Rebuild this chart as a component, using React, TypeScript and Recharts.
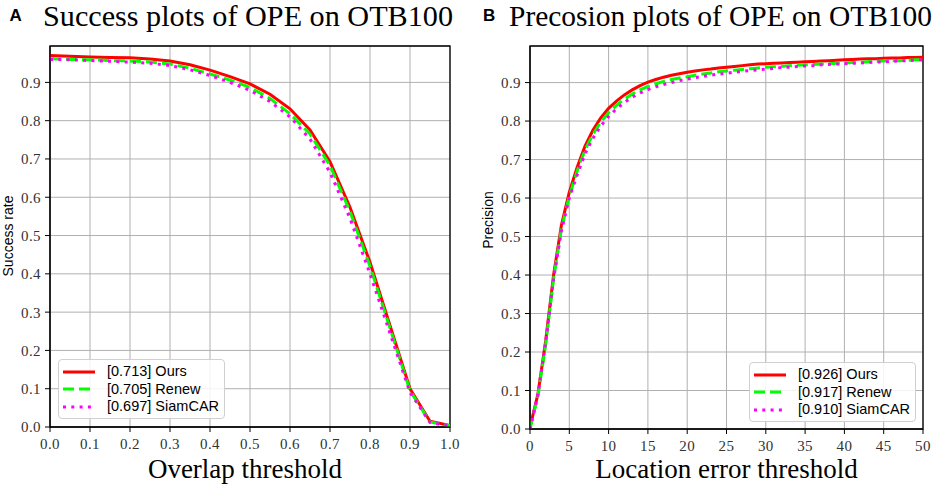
import React from 'react';
import { LineChart, Line, XAxis, YAxis, CartesianGrid, ReferenceArea, Legend } from 'recharts';

// ---------- Success plot (A) ----------
const overlapThresholds = [0, 0.05, 0.1, 0.15, 0.2, 0.25, 0.3, 0.35, 0.4, 0.45, 0.5, 0.55, 0.6, 0.65, 0.7, 0.75, 0.8, 0.85, 0.9, 0.95, 1.0];
const oursSuccess = [0.970, 0.968, 0.966, 0.965, 0.964, 0.961, 0.956, 0.946, 0.932, 0.915, 0.896, 0.869, 0.831, 0.776, 0.693, 0.574, 0.430, 0.265, 0.100, 0.015, 0.004];
const renewSuccess = [0.962, 0.960, 0.959, 0.957, 0.956, 0.953, 0.948, 0.937, 0.922, 0.906, 0.887, 0.858, 0.818, 0.765, 0.683, 0.563, 0.420, 0.258, 0.095, 0.013, 0.003];
const siamcarSuccess = [0.960, 0.959, 0.957, 0.955, 0.953, 0.950, 0.944, 0.933, 0.918, 0.900, 0.879, 0.850, 0.810, 0.752, 0.665, 0.545, 0.400, 0.245, 0.090, 0.012, 0.003];
const successXTicks = [0, 0.1, 0.2, 0.3, 0.4, 0.5, 0.6, 0.7, 0.8, 0.9, 1.0];
const successLegend = ['[0.713] Ours', '[0.705] Renew', '[0.697] SiamCAR'];

// ---------- Precision plot (B) ----------
const locationThresholds = [0, 1, 2, 3, 4, 5, 6, 7, 8, 9, 10, 11, 12, 13, 14, 15, 16, 17, 18, 19, 20, 21, 22, 23, 24, 25, 26, 27, 28, 29, 30, 31, 32, 33, 34, 35, 36, 37, 38, 39, 40, 41, 42, 43, 44, 45, 46, 47, 48, 49, 50];
const oursPrecision = [0.005, 0.090, 0.230, 0.400, 0.530, 0.615, 0.680, 0.735, 0.776, 0.808, 0.833, 0.852, 0.868, 0.881, 0.892, 0.901, 0.908, 0.914, 0.919, 0.923, 0.927, 0.930, 0.933, 0.935, 0.938, 0.940, 0.942, 0.944, 0.946, 0.948, 0.949, 0.950, 0.951, 0.952, 0.953, 0.954, 0.955, 0.956, 0.957, 0.958, 0.959, 0.960, 0.961, 0.962, 0.962, 0.963, 0.964, 0.964, 0.965, 0.965, 0.966];
const renewPrecision = [0.000, 0.085, 0.220, 0.390, 0.520, 0.605, 0.670, 0.725, 0.765, 0.797, 0.822, 0.841, 0.857, 0.870, 0.881, 0.890, 0.897, 0.903, 0.908, 0.912, 0.915, 0.919, 0.922, 0.925, 0.928, 0.930, 0.932, 0.934, 0.936, 0.938, 0.940, 0.941, 0.942, 0.944, 0.945, 0.946, 0.947, 0.948, 0.949, 0.950, 0.951, 0.952, 0.953, 0.954, 0.955, 0.956, 0.957, 0.957, 0.958, 0.959, 0.960];
const siamcarPrecision = [0.000, 0.090, 0.225, 0.390, 0.515, 0.600, 0.660, 0.715, 0.755, 0.787, 0.812, 0.832, 0.848, 0.862, 0.873, 0.882, 0.889, 0.895, 0.900, 0.905, 0.909, 0.913, 0.916, 0.919, 0.922, 0.924, 0.927, 0.929, 0.931, 0.933, 0.935, 0.937, 0.939, 0.940, 0.942, 0.943, 0.944, 0.946, 0.947, 0.948, 0.949, 0.950, 0.951, 0.952, 0.953, 0.954, 0.955, 0.956, 0.957, 0.958, 0.959];
const precisionXTicks = [0, 5, 10, 15, 20, 25, 30, 35, 40, 45, 50];
const precisionLegend = ['[0.926] Ours', '[0.917] Renew', '[0.910] SiamCAR'];

const yTicks = [0, 0.1, 0.2, 0.3, 0.4, 0.5, 0.6, 0.7, 0.8, 0.9];
const seriesKeys = ['ours', 'renew', 'siamcar'];

const successData = overlapThresholds.map((t, i) => ({ t, ours: oursSuccess[i], renew: renewSuccess[i], siamcar: siamcarSuccess[i] }));
const precisionData = locationThresholds.map((t, i) => ({ t, ours: oursPrecision[i], renew: renewPrecision[i], siamcar: siamcarPrecision[i] }));

const seriesStyles: Record<string, { stroke: string; dash?: string }> = {
  ours: { stroke: '#ff0000' },
  renew: { stroke: '#00ff00', dash: '11 5' },
  siamcar: { stroke: '#ff00ff', dash: '3 5.3' },
};

const fmt1 = (v: number) => v.toFixed(1);
const fmt0 = (v: number) => String(v);

function makeTick(axis: 'x' | 'y', format: (v: number) => string) {
  return (props: any) => {
    const { x, y, payload } = props;
    const isX = axis === 'x';
    return (
      <text
        x={x}
        y={y}
        dy={isX ? '0.72em' : '0.36em'}
        textAnchor={isX ? 'middle' : 'end'}
        fontFamily="Liberation Serif"
        fontSize={15}
        letterSpacing={0.4}
        fill="#333"
      >
        {format(payload.value)}
      </text>
    );
  };
}

function LegendBox({ labels }: { labels: string[] }) {
  return (
    <div
      style={{
        width: 167,
        height: 60,
        boxSizing: 'border-box',
        border: '1px solid #d0d0d0',
        borderRadius: 4,
        background: 'rgba(255,255,255,0.85)',
        paddingTop: 3,
        fontFamily: '"Liberation Sans", Arial, sans-serif',
        fontSize: 14.5,
        color: '#000',
      }}
    >
      {seriesKeys.map((k, i) => {
        const st = seriesStyles[k];
        return (
          <div key={k} style={{ display: 'flex', alignItems: 'center', height: 17.5 }}>
            <svg width={32} height={8} style={{ marginLeft: 4, marginRight: 12, flex: 'none' }}>
              <line x1={0} y1={4} x2={32} y2={4} stroke={st.stroke} strokeWidth={3} strokeDasharray={st.dash} />
            </svg>
            <span style={{ lineHeight: '17.5px', whiteSpace: 'nowrap' }}>{labels[i]}</span>
          </div>
        );
      })}
    </div>
  );
}

function Series(names: string[]) {
  return seriesKeys.map((k, i) => (
    <Line
      key={k}
      type="linear"
      dataKey={k}
      name={names[i]}
      stroke={seriesStyles[k].stroke}
      strokeWidth={3}
      strokeDasharray={seriesStyles[k].dash}
      dot={false}
      activeDot={false}
      isAnimationActive={false}
    />
  ));
}

export default function App() {
  return (
    <div style={{ position: 'absolute', left: 0, top: 0, width: 941, height: 486, background: '#fff', overflow: 'hidden' }}>
      <div style={{ position: 'absolute', left: 0, top: 0 }}>
        <LineChart width={470} height={486} data={successData} margin={{ top: 46, right: 20, bottom: 0, left: 0 }}>
          <CartesianGrid stroke="#b0b0b0" strokeWidth={1} />
          <XAxis
            dataKey="t"
            type="number"
            domain={[0, 1]}
            ticks={successXTicks}
            height={59}
            tickSize={5}
            tickMargin={6}
            stroke="#000"
            tick={makeTick('x', fmt1)}
            interval={0}
            allowDataOverflow
          />
          <YAxis
            type="number"
            domain={[0, 0.995]}
            ticks={yTicks}
            width={50}
            tickSize={5}
            tickMargin={4}
            stroke="#000"
            tick={makeTick('y', fmt1)}
            interval={0}
            allowDataOverflow
          />
          {Series(successLegend)}
          <ReferenceArea x1={0} x2={1} y1={0} y2={0.995} fill="none" stroke="#000" strokeWidth={1.3} />
          <Legend layout="vertical" align="center" verticalAlign="middle" content={() => <LegendBox labels={successLegend} />} wrapperStyle={{ left: 58, top: 359, width: 167, height: 60 }} />
        </LineChart>
      </div>
      <div style={{ position: 'absolute', left: 470, top: 0 }}>
        <LineChart width={471} height={486} data={precisionData} margin={{ top: 46, right: 18, bottom: 0, left: 0 }}>
          <CartesianGrid stroke="#b0b0b0" strokeWidth={1} />
          <XAxis
            dataKey="t"
            type="number"
            domain={[0, 50]}
            ticks={precisionXTicks}
            height={57}
            tickSize={5}
            tickMargin={6}
            stroke="#000"
            tick={makeTick('x', fmt0)}
            interval={0}
            allowDataOverflow
          />
          <YAxis
            type="number"
            domain={[0, 0.995]}
            ticks={yTicks}
            width={60}
            tickSize={5}
            tickMargin={4}
            stroke="#000"
            tick={makeTick('y', fmt1)}
            interval={0}
            allowDataOverflow
          />
          {Series(precisionLegend)}
          <ReferenceArea x1={0} x2={50} y1={0} y2={0.995} fill="none" stroke="#000" strokeWidth={1.3} />
          <Legend layout="vertical" align="center" verticalAlign="middle" content={() => <LegendBox labels={precisionLegend} />} wrapperStyle={{ left: 279, top: 362, width: 167, height: 60 }} />
        </LineChart>
      </div>
      <svg width={941} height={486} style={{ position: 'absolute', left: 0, top: 0, pointerEvents: 'none' }}>
        <text x={9.5} y={21} fontFamily='"Liberation Sans", Arial, sans-serif' fontWeight="bold" fontSize={17} fill="#000">A</text>
        <text x={43} y={26} textLength={410} lengthAdjust="spacingAndGlyphs" fontFamily='"Liberation Serif", "Times New Roman", serif' fontSize={29} fill="#000">Success plots of OPE on OTB100</text>
        <text x={483} y={21} fontFamily='"Liberation Sans", Arial, sans-serif' fontWeight="bold" fontSize={17} fill="#000">B</text>
        <text x={509} y={26} textLength={423} lengthAdjust="spacingAndGlyphs" fontFamily='"Liberation Serif", "Times New Roman", serif' fontSize={29} fill="#000">Precosion plots of OPE on OTB100</text>
        <text x={245} y={478} textAnchor="middle" fontFamily='"Liberation Serif", "Times New Roman", serif' fontSize={27} fill="#000">Overlap threshold</text>
        <text x={726.5} y={478} textAnchor="middle" fontFamily='"Liberation Serif", "Times New Roman", serif' fontSize={27} fill="#000">Location error threshold</text>
        <text transform="translate(13,236) rotate(-90)" textAnchor="middle" fontFamily='"Liberation Sans", Arial, sans-serif' fontSize={14} fill="#000">Success rate</text>
        <text transform="translate(493,220) rotate(-90)" textAnchor="middle" fontFamily='"Liberation Sans", Arial, sans-serif' fontSize={14} fill="#000">Precision</text>
      </svg>
    </div>
  );
}
